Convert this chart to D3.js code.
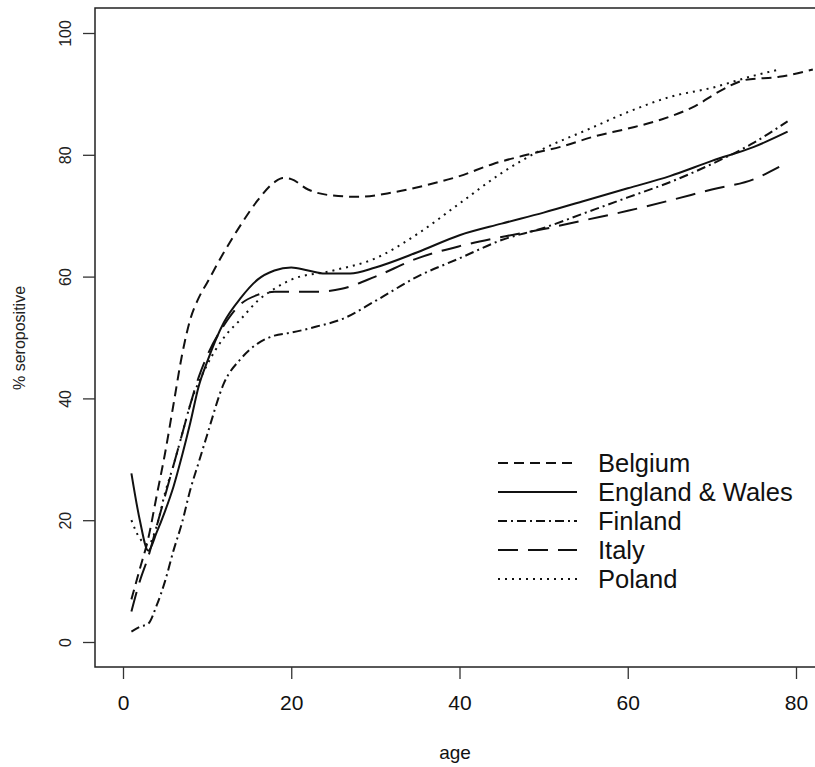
<!DOCTYPE html>
<html><head><meta charset="utf-8">
<script src="https://cdnjs.cloudflare.com/ajax/libs/d3/7.8.5/d3.min.js"></script>
<style>body{margin:0;background:#fff}svg{display:block}</style>
</head><body><svg id="c" width="815" height="767"></svg>
<script>
const countries = ["Belgium","England & Wales","Finland","Italy","Poland"];
const xTicks = [0,20,40,60,80];
const yTicks = [0,20,40,60,80,100];
const belgium = [[1,7],[2,12],[3,17],[4,24],[5,31],[6,39],[7,47],[8,53],[9,56.5],[10,59],[12,64],[14,68.5],[16,72.5],[18,75.5],[19,76.2],[20,76],[22,74.3],[25,73.3],[28,73.1],[32,73.8],[36,75],[40,76.5],[44,78.5],[48,80],[52,81.3],[56,83],[60,84.3],[64,85.8],[68,88],[71,90.5],[74,92.3],[78,92.8],[82,94]];
const englandWales = [[1,27.7],[2,20],[3,15],[4,18],[5,21.5],[6,25.5],[7,30.5],[8,36],[9,42],[10,46],[12,52.5],[14,56.5],[16,59.5],[18,61],[20,61.5],[22,61],[24,60.5],[27,60.5],[30,61.5],[35,64],[40,66.8],[45,68.7],[50,70.5],[55,72.5],[60,74.5],[65,76.5],[70,79],[75,81.3],[79,83.8]];
const finland = [[1,1.7],[2,2.5],[3,3],[4,6],[5,10],[6,15],[7,19.5],[8,25],[9,29.5],[10,34],[12,42.5],[14,46.5],[16,49],[18,50.3],[20,50.8],[23,51.8],[26,53],[30,56],[35,60],[40,63],[45,66],[50,68],[55,70.5],[60,73],[65,75.5],[70,78.5],[75,82],[79,85.5]];
const italy = [[1,5],[2,10],[3,14],[4,19],[5,24],[6,29],[7,34],[8,39],[9,43.5],[10,47],[12,52],[14,55.5],[16,57],[18,57.5],[20,57.5],[23,57.5],[26,58],[30,60],[35,63],[40,65],[45,66.5],[50,67.8],[55,69.3],[60,70.8],[65,72.5],[70,74.3],[75,76],[78,78]];
const poland = [[1,20],[2,17],[3,16],[4,19],[5,24.5],[6,29],[7,34],[8,39],[10,45.5],[12,50],[14,53],[16,56],[18,58],[20,59.5],[25,61],[30,63],[35,67],[40,72],[45,77],[50,81],[55,84],[60,87],[65,89.5],[70,91],[75,93],[78,94]];
const seriesData = [belgium, englandWales, finland, italy, poland];
const dashes = ["10,6", null, "9,4,2,4", "20,10", "2,5"];

const svg = d3.select("#c");
const x = d3.scaleLinear().domain([0,80]).range([123,796]);
const y = d3.scaleLinear().domain([0,100]).range([642,33]);
const pLeft = 95, pTop = 8, pBottom = 667, pRight = 840;

svg.append("rect").attr("x",pLeft).attr("y",pTop).attr("width",pRight-pLeft).attr("height",pBottom-pTop)
  .attr("fill","none").attr("stroke","#222").attr("stroke-width",1.5);

const xAxis = svg.append("g").attr("transform",`translate(0,${pBottom})`)
  .call(d3.axisBottom(x).tickValues(xTicks).tickSize(12).tickSizeOuter(0).tickPadding(16));
xAxis.select(".domain").remove();
xAxis.selectAll("line").attr("stroke","#333").attr("stroke-width",1.3);
xAxis.selectAll("text").attr("font-family","'Liberation Sans Narrow','Arial Narrow',sans-serif").attr("font-size",21).attr("fill","#111");

const yAxis = svg.append("g").attr("transform",`translate(${pLeft},0)`)
  .call(d3.axisLeft(y).tickValues(yTicks).tickSize(12).tickSizeOuter(0).tickPadding(0));
yAxis.select(".domain").remove();
yAxis.selectAll("line").attr("stroke","#333").attr("stroke-width",1.3);
yAxis.selectAll("text").attr("font-family","'Liberation Sans',Arial,sans-serif").attr("font-size",16).attr("fill","#222")
  .attr("text-anchor","middle").attr("transform","translate(-30,0) rotate(-90)").attr("x",0).attr("dy","0.35em");

svg.append("text").attr("x",455).attr("y",759).attr("text-anchor","middle")
  .attr("font-family","'Liberation Sans Narrow','Arial Narrow',sans-serif").attr("font-size",19).attr("fill","#111").text("age");
svg.append("text").attr("transform","translate(25,338) rotate(-90)").attr("text-anchor","middle")
  .attr("font-family","'Liberation Sans',Arial,sans-serif").attr("font-size",16).attr("fill","#222").text("% seropositive");

svg.append("clipPath").attr("id","clp").append("rect").attr("x",pLeft).attr("y",pTop).attr("width",pRight-pLeft).attr("height",pBottom-pTop);
const line = d3.line().x(d=>x(d[0])).y(d=>y(d[1])).curve(d3.curveMonotoneX);
const g = svg.append("g").attr("clip-path","url(#clp)");
seriesData.forEach((s,i)=>{
  g.append("path").attr("d",line(s)).attr("fill","none").attr("stroke","#111").attr("stroke-width",2)
   .attr("stroke-dasharray",dashes[i]);
});

const leg = svg.append("g");
countries.forEach((c,i)=>{
  const yy = 463 + i*29;
  leg.append("line").attr("x1",498).attr("x2",577).attr("y1",yy).attr("y2",yy)
    .attr("stroke","#111").attr("stroke-width",2).attr("stroke-dasharray",dashes[i]);
  leg.append("text").attr("x",598).attr("y",yy).attr("dy","0.35em")
    .attr("font-family","'Liberation Sans',Arial,sans-serif").attr("font-size",25.5).attr("fill","#111").text(c);
});
</script></body></html>
